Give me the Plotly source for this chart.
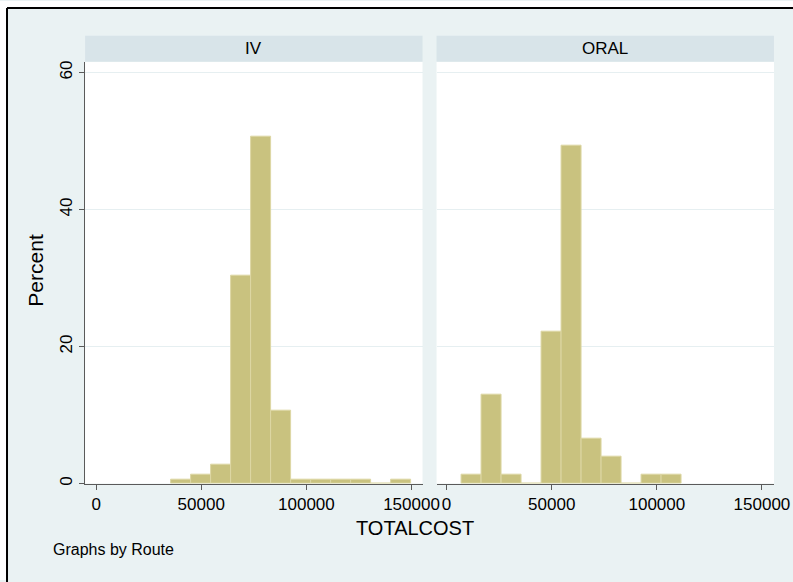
import plotly.graph_objects as go

# ---------------- data ----------------
panels = ["IV", "ORAL"]
BIN_WIDTH = 9513  # histogram bin width (TOTALCOST units)

iv_bin_mid = [40595.5, 50108.5, 59621.5, 69134.5, 78647.5, 88160.5,
              97673.5, 107186.5, 116699.5, 126212.5, 135725.5, 145238.5]
iv_percent = [0.63, 1.3, 2.7, 30.3, 50.7, 10.6, 0.63, 0.63, 0.63, 0.63, 0.0, 0.63]

oral_bin_mid = [12056.5, 21569.5, 31082.5, 40595.5, 50108.5, 59621.5,
                69134.5, 78647.5, 88160.5, 97673.5, 107186.5]
oral_percent = [1.26, 12.97, 1.26, 0.0, 22.1, 49.4, 6.5, 3.9, 0.0, 1.26, 1.26]

x_tickvals = [0, 50000, 100000, 150000]
x_ticktext = ["0", "50000", "100000", "150000"]
y_tickvals = [0, 20, 40, 60]
y_ticktext = ["0", "20", "40", "60"]

x_title = "TOTALCOST"
y_title = "Percent"
note = "Graphs by Route"

# ---------------- style ----------------
W, H = 793, 582          # reference picture size (layout grid)
FIG_W, FIG_H = 811, 582  # figure size in the page
FONT = "Liberation Sans, Arial, Helvetica, sans-serif"
BG = "#EAF2F3"
STRIP = "#D8E4E9"
BAR = "#C9C27F"
BAR_LINE = "#DDD7A4"
AXIS = "#5A5A5A"
GRID = "#E6EFF1"


def px_x(p):
    return p / W


def px_y(p):
    return 1 - p / H


fig = go.Figure()
fig.add_trace(go.Bar(x=iv_bin_mid, y=iv_percent, width=BIN_WIDTH,
                     marker=dict(color=BAR, line=dict(color=BAR_LINE, width=1)),
                     xaxis="x", yaxis="y", showlegend=False, hoverinfo="x+y"))
fig.add_trace(go.Bar(x=oral_bin_mid, y=oral_percent, width=BIN_WIDTH,
                     marker=dict(color=BAR, line=dict(color=BAR_LINE, width=1)),
                     xaxis="x2", yaxis="y2", showlegend=False, hoverinfo="x+y"))

ydom = [px_y(485), px_y(61)]
xcommon = dict(tickmode="array", tickvals=x_tickvals, ticktext=x_ticktext,
               ticks="outside", ticklen=5, tickwidth=1, tickcolor=AXIS,
               showline=True, linecolor=AXIS, linewidth=1,
               showgrid=False, zeroline=False,
               tickfont=dict(family=FONT, size=17, color="black"))

fig.update_layout(
    width=FIG_W, height=FIG_H, autosize=False,
    margin=dict(l=0, r=0, t=0, b=0, pad=0),
    paper_bgcolor=BG, plot_bgcolor="white",
    bargap=0, barmode="overlay",
    font=dict(family=FONT, color="black"),
    xaxis=dict(domain=[px_x(85), px_x(422)], range=[-5238, 155238], anchor="y", **xcommon),
    xaxis2=dict(domain=[px_x(436), px_x(773)], range=[-4762, 155714], anchor="y2", **xcommon),
    yaxis=dict(domain=ydom, range=[0, 61.6], anchor="x",
               tickmode="array", tickvals=y_tickvals, ticktext=y_ticktext,
               tickangle=-90, ticks="outside", ticklen=5, tickwidth=1, tickcolor=AXIS,
               showline=True, linecolor=AXIS, linewidth=1,
               showgrid=True, gridcolor=GRID, gridwidth=1, zeroline=False,
               tickfont=dict(family=FONT, size=17, color="black")),
    yaxis2=dict(domain=ydom, range=[0, 61.6], anchor="x2",
                tickmode="array", tickvals=y_tickvals,
                showticklabels=False, ticks="", showline=False,
                showgrid=True, gridcolor=GRID, gridwidth=1, zeroline=False),
)

shapes = []
for x0, x1 in [(85, 422), (436, 773)]:
    shapes.append(dict(type="rect", xref="paper", yref="paper",
                       x0=px_x(x0), x1=px_x(x1), y0=px_y(61), y1=px_y(35),
                       fillcolor=STRIP, line=dict(width=0)))
shapes.append(dict(type="rect", xref="paper", yref="paper", x0=0, x1=px_x(7), y0=0, y1=1,
                   fillcolor="white", line=dict(width=0)))
shapes.append(dict(type="rect", xref="paper", yref="paper", x0=0, x1=1, y0=px_y(7), y1=1,
                   fillcolor="white", line=dict(width=0)))
shapes.append(dict(type="line", xref="paper", yref="paper", x0=px_x(7), x1=1.01,
                   y0=px_y(7), y1=px_y(7), line=dict(color="black", width=2)))
shapes.append(dict(type="line", xref="paper", yref="paper", x0=px_x(7), x1=px_x(7),
                   y0=-0.01, y1=px_y(7), line=dict(color="black", width=2)))
fig.update_layout(shapes=shapes)

annotations = [
    dict(text=panels[0], x=px_x(253.5), y=px_y(48), xref="paper", yref="paper",
         showarrow=False, xanchor="center", yanchor="middle",
         font=dict(family=FONT, size=17, color="black")),
    dict(text=panels[1], x=px_x(604.5), y=px_y(48), xref="paper", yref="paper",
         showarrow=False, xanchor="center", yanchor="middle",
         font=dict(family=FONT, size=17, color="black")),
    dict(text=x_title, x=px_x(414), y=px_y(530), xref="paper", yref="paper",
         showarrow=False, xanchor="center", yanchor="middle",
         font=dict(family=FONT, size=20, color="black")),
    dict(text=y_title, x=px_x(36), y=px_y(271), xref="paper", yref="paper",
         showarrow=False, xanchor="center", yanchor="middle", textangle=-90,
         font=dict(family=FONT, size=21, color="black")),
    dict(text=note, x=px_x(51), y=px_y(551), xref="paper", yref="paper",
         showarrow=False, xanchor="left", yanchor="middle",
         font=dict(family=FONT, size=16, color="black")),
]
fig.update_layout(annotations=annotations)

post = (
    "document.documentElement.style.overflow='hidden';"
    "document.body.style.margin='0';"
    "document.body.style.overflow='hidden';"
)

fig.write_html(
    "out.html",
    config={"displayModeBar": False, "responsive": False},
    post_script=post,
)
